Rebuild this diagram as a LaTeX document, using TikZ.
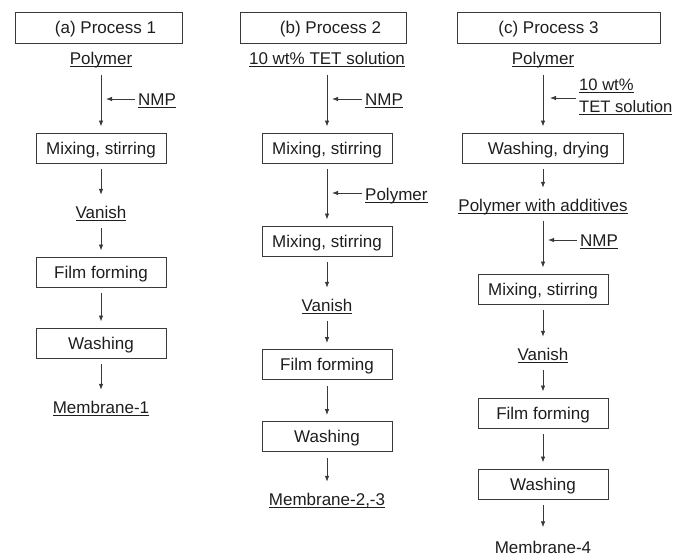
\documentclass[tikz,border=0pt]{standalone}
\usepackage{fontspec}
\setmainfont{Liberation Sans}
\usepackage{tikz}
\usetikzlibrary{positioning,arrows.meta}
\definecolor{ink}{HTML}{1E1E1E}
\definecolor{edge}{HTML}{3A3A3A}
\newcommand\ulin[1]{\setbox0\hbox{#1}\rlap{\rule[-2.4pt]{\wd0}{0.8pt}}\box0}
\tikzstyle{stepbox} = [rectangle, draw=edge, line width=0.9pt, minimum width=130pt, minimum height=30pt, inner sep=0pt, text height=12pt, text depth=0pt, text centered]
\tikzstyle{headbox} = [stepbox, minimum width=166pt, minimum height=31pt]
\tikzstyle{matter} = [inner sep=0pt, text height=17pt, text depth=4pt, anchor=base]
\tikzstyle{feed} = [inner sep=3pt, anchor=base west]
\tikzstyle{connect} = [draw=edge, line width=0.8pt, -{Latex[length=6pt,width=4.5pt]}, shorten <=6pt, shorten >=6pt]
\tikzstyle{inflow} = [draw=edge, line width=0.8pt, -{Latex[length=6pt,width=4.5pt]}]
\begin{document}
\begin{tikzpicture}[x=1pt, y=-1pt, every node/.style={font=\fontsize{17}{22}\selectfont, text=ink}]
			\useasboundingbox (0,0) rectangle (675,557);
			% process 1
			\node (headA) [headbox, minimum width=167pt] at (98.5,27.5) {\hspace*{14pt}(a) Process 1};
			\node (polyA) [matter] at (101,64.5) {\ulin{Polymer}};
			\node (mixA) [stepbox] at (101,148) {Mixing, stirring};
			\node (vanA) [matter] at (101,218) {\ulin{Vanish}};
			\node (filmA) [stepbox] at (101,272) {Film forming};
			\node (washA) [stepbox] at (101,343) {Washing};
			\node (membA) [matter] at (101,413) {\ulin{Membrane-1}};
			\node (nmpA) [feed] at (135,105) {\ulin{NMP}};
			\coordinate (inA) at (106,99);
			% process 2
			\node (headB) [headbox] at (323,27.5) {\hspace*{15pt}(b) Process 2};
			\node (tetB) [matter] at (327,64.5) {\ulin{10 wt\% TET solution}};
			\node (mixB) [stepbox] at (327,148) {Mixing, stirring};
			\node (mixBB) [stepbox] at (327,241) {Mixing, stirring};
			\node (vanB) [matter] at (327,311) {\ulin{Vanish}};
			\node (filmB) [stepbox] at (327,364.5) {Film forming};
			\node (washB) [stepbox] at (327,436.5) {Washing};
			\node (membB) [matter] at (327,505) {\ulin{Membrane-2,-3}};
			\node (nmpB) [feed] at (362,105) {\ulin{NMP}};
			\node (polyB) [feed] at (362,200) {\ulin{Polymer}};
			\coordinate (inB) at (332,99);
			\coordinate (inBB) at (332,193);
			% process 3
			\node (headC) [headbox, minimum width=203pt] at (558.5,27.5) {(c) Process 3\hspace*{20pt}};
			\node (polyC) [matter] at (543,64.5) {\ulin{Polymer}};
			\node (dryC) [stepbox, minimum width=161pt] at (543,148) {\hspace*{11pt}Washing, drying};
			\node (addC) [matter] at (543,211) {\ulin{Polymer with additives}};
			\node (mixC) [stepbox] at (543,289) {Mixing, stirring};
			\node (vanC) [matter] at (543,360) {\ulin{Vanish}};
			\node (filmC) [stepbox] at (543,413) {Film forming};
			\node (washC) [stepbox] at (543,484) {Washing};
			\node (membC) [matter, text depth=1pt] at (543,553.5) {Membrane-4};
			\node (tetC) [feed, anchor=west, align=left, font=\fontsize{16.6}{22}\selectfont] at (576,97) {\ulin{10 wt\%}\\\ulin{TET solution}};
			\node (nmpC) [feed] at (577,246) {\ulin{NMP}};
			\coordinate (inC) at (550,98);
			\coordinate (inCC) at (548,240);
			%-----------------------------------------------
			\draw [connect] (polyA) -- (mixA);
			\draw [connect] (mixA) -- (vanA);
			\draw [connect] (vanA) -- (filmA);
			\draw [connect] (filmA) -- (washA);
			\draw [connect] (washA) -- (membA);
			\draw [inflow] (nmpA.west |- inA) -- (inA);
			%-----------------------------------------------
			\draw [connect] (tetB) -- (mixB);
			\draw [connect] (mixB) -- (mixBB);
			\draw [connect] (mixBB) -- (vanB);
			\draw [connect] (vanB) -- (filmB);
			\draw [connect] (filmB) -- (washB);
			\draw [connect] (washB) -- (membB);
			\draw [inflow] (nmpB.west |- inB) -- (inB);
			\draw [inflow] (polyB.west |- inBB) -- (inBB);
			%-----------------------------------------------
			\draw [connect] (polyC) -- (dryC);
			\draw [connect] (dryC) -- (addC);
			\draw [connect] (addC) -- (mixC);
			\draw [connect] (mixC) -- (vanC);
			\draw [connect] (vanC) -- (filmC);
			\draw [connect] (filmC) -- (washC);
			\draw [connect, shorten >=9pt] (washC) -- (membC);
			\draw [inflow] (tetC.west |- inC) -- (inC);
			\draw [inflow] (nmpC.west |- inCC) -- (inCC);
\end{tikzpicture}
\end{document}
